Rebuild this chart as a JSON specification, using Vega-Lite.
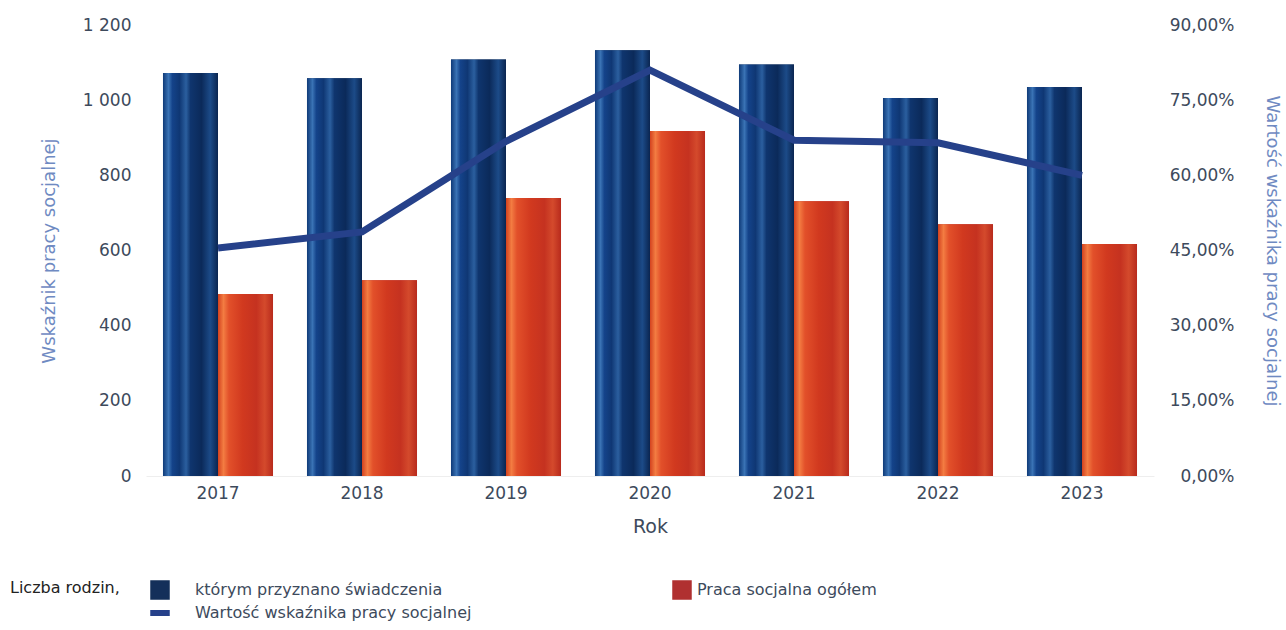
{
  "$schema": "https://vega.github.io/schema/vega-lite/v6.json",
  "width": 1008,
  "height": 451,
  "autosize": "none",
  "padding": {"left": 146, "top": 25, "right": 132, "bottom": 154},
  "config": {
    "locale": {"number": {"decimal": ",", "thousands": " ", "grouping": [3], "currency": ["", " zł"]}},
    "view": {"stroke": null},
    "font": "DejaVu Sans",
    "axis": {"grid": false, "ticks": false, "labelFontSize": 17, "labelColor": "#3d4a5c", "titleFontWeight": "normal", "titleColor": "#6f8ac2", "titleFontSize": 18}
  },
  "datasets": {
    "bars": [
      {"rok": "2017", "seria": "którym przyznano świadczenia", "wartosc": 1072},
      {"rok": "2018", "seria": "którym przyznano świadczenia", "wartosc": 1058},
      {"rok": "2019", "seria": "którym przyznano świadczenia", "wartosc": 1108},
      {"rok": "2020", "seria": "którym przyznano świadczenia", "wartosc": 1133},
      {"rok": "2021", "seria": "którym przyznano świadczenia", "wartosc": 1095},
      {"rok": "2022", "seria": "którym przyznano świadczenia", "wartosc": 1006},
      {"rok": "2023", "seria": "którym przyznano świadczenia", "wartosc": 1035},
      {"rok": "2017", "seria": "Praca socjalna ogółem", "wartosc": 484},
      {"rok": "2018", "seria": "Praca socjalna ogółem", "wartosc": 521},
      {"rok": "2019", "seria": "Praca socjalna ogółem", "wartosc": 740},
      {"rok": "2020", "seria": "Praca socjalna ogółem", "wartosc": 918},
      {"rok": "2021", "seria": "Praca socjalna ogółem", "wartosc": 731},
      {"rok": "2022", "seria": "Praca socjalna ogółem", "wartosc": 670},
      {"rok": "2023", "seria": "Praca socjalna ogółem", "wartosc": 617}
    ],
    "linia": [
      {"rok": "2017", "seria": "Wartość wskaźnika pracy socjalnej", "wskaznik": 0.455},
      {"rok": "2018", "seria": "Wartość wskaźnika pracy socjalnej", "wskaznik": 0.487},
      {"rok": "2019", "seria": "Wartość wskaźnika pracy socjalnej", "wskaznik": 0.668},
      {"rok": "2020", "seria": "Wartość wskaźnika pracy socjalnej", "wskaznik": 0.81},
      {"rok": "2021", "seria": "Wartość wskaźnika pracy socjalnej", "wskaznik": 0.67},
      {"rok": "2022", "seria": "Wartość wskaźnika pracy socjalnej", "wskaznik": 0.665},
      {"rok": "2023", "seria": "Wartość wskaźnika pracy socjalnej", "wskaznik": 0.6}
    ]
  },
  "layer": [
    {
      "data": {"name": "bars"},
      "encoding": {
        "x": {
          "field": "rok", "type": "ordinal",
          "scale": {"paddingInner": 0.236, "paddingOuter": 0.118},
          "axis": {"title": "Rok", "labelAngle": 0, "labelPadding": 9, "titlePadding": 16, "titleColor": "#3d4a5c", "titleFontSize": 19, "domain": true, "domainColor": "#eeeeee"}
        },
        "xOffset": {"field": "seria", "type": "nominal", "sort": ["którym przyznano świadczenia", "Praca socjalna ogółem"]},
        "y": {
          "field": "wartosc", "type": "quantitative",
          "scale": {"domain": [0, 1200]},
          "axis": {"title": "Wskaźnik pracy socjalnej", "values": [0, 200, 400, 600, 800, 1000, 1200], "format": ",d", "domain": false, "labelPadding": 15, "titlePadding": 24}
        }
      },
      "layer": [
        {
          "mark": {"type": "bar"},
          "encoding": {
            "color": {
              "field": "seria", "type": "nominal",
              "scale": {
                "domain": ["którym przyznano świadczenia", "Wartość wskaźnika pracy socjalnej", "Praca socjalna ogółem"],
                "range": ["#14305a", "#26418a", "#b03030"]
              },
              "legend": {
                "title": "Liczba rodzin,",
                "orient": "none",
                "legendX": -136,
                "legendY": 555,
                "columns": 2,
                "titleOrient": "left",
                "titleAnchor": "start",
                "titleFontSize": 16,
                "titleFontWeight": "normal",
                "titleColor": "#222222",
                "titlePadding": 30,
                "labelFontSize": 16,
                "labelColor": "#3d4a5c",
                "labelLimit": 500,
                "labelOffset": 25,
                "symbolSize": 324,
                "columnPadding": 198,
                "rowPadding": 1,
                "padding": 0,
                "encode": {
                  "symbols": {"update": {
                    "shape": {"signal": "datum.value === 'Wartość wskaźnika pracy socjalnej' ? 'M-1,-0.25H1V0.25H-1Z' : 'square'"},
                    "fill": {"scale": "color", "field": "value"},
                    "stroke": {"value": "transparent"},
                    "opacity": {"value": 1}
                  }},
                  "labels": {"update": {
                    "dx": {"signal": "datum.value === 'Praca socjalna ogółem' ? -20 : 0"}
                  }}
                }
              }
            }
          }
        },
        {
          "transform": [{"filter": "datum.seria === 'którym przyznano świadczenia'"}],
          "mark": {"type": "bar", "color": {"gradient": "linear", "x1": 0, "x2": 1, "y1": 0, "y2": 0, "stops": [
            {"offset": 0, "color": "#0f3a78"},
            {"offset": 0.1, "color": "#3a73b5"},
            {"offset": 0.17, "color": "#14438a"},
            {"offset": 0.3, "color": "#0f3774"},
            {"offset": 0.42, "color": "#2b5f9f"},
            {"offset": 0.5, "color": "#0f356e"},
            {"offset": 0.7, "color": "#0b2a5a"},
            {"offset": 0.86, "color": "#1c4b88"},
            {"offset": 1, "color": "#0a2550"}
          ]}}
        },
        {
          "transform": [{"filter": "datum.seria === 'Praca socjalna ogółem'"}],
          "mark": {"type": "bar", "color": {"gradient": "linear", "x1": 0, "x2": 1, "y1": 0, "y2": 0, "stops": [
            {"offset": 0, "color": "#d3421f"},
            {"offset": 0.1, "color": "#f37c42"},
            {"offset": 0.2, "color": "#e2502a"},
            {"offset": 0.45, "color": "#d1391f"},
            {"offset": 0.7, "color": "#c53220"},
            {"offset": 0.85, "color": "#d44a2c"},
            {"offset": 1, "color": "#b82a1c"}
          ]}}
        }
      ]
    },
    {
      "data": {"name": "linia"},
      "mark": {"type": "line", "strokeWidth": 7},
      "encoding": {
        "x": {"field": "rok", "type": "ordinal"},
        "y": {
          "field": "wskaznik", "type": "quantitative",
          "scale": {"domain": [0, 0.9]},
          "axis": {"orient": "right", "title": "Wartość wskaźnika pracy socjalnej", "titleAngle": 90, "values": [0, 0.15, 0.3, 0.45, 0.6, 0.75, 0.9], "format": ".2%", "domain": false, "labelAlign": "right", "labelPadding": 80, "titlePadding": 28}
        },
        "color": {"field": "seria", "type": "nominal"}
      }
    }
  ],
  "resolve": {"scale": {"y": "independent"}}
}
